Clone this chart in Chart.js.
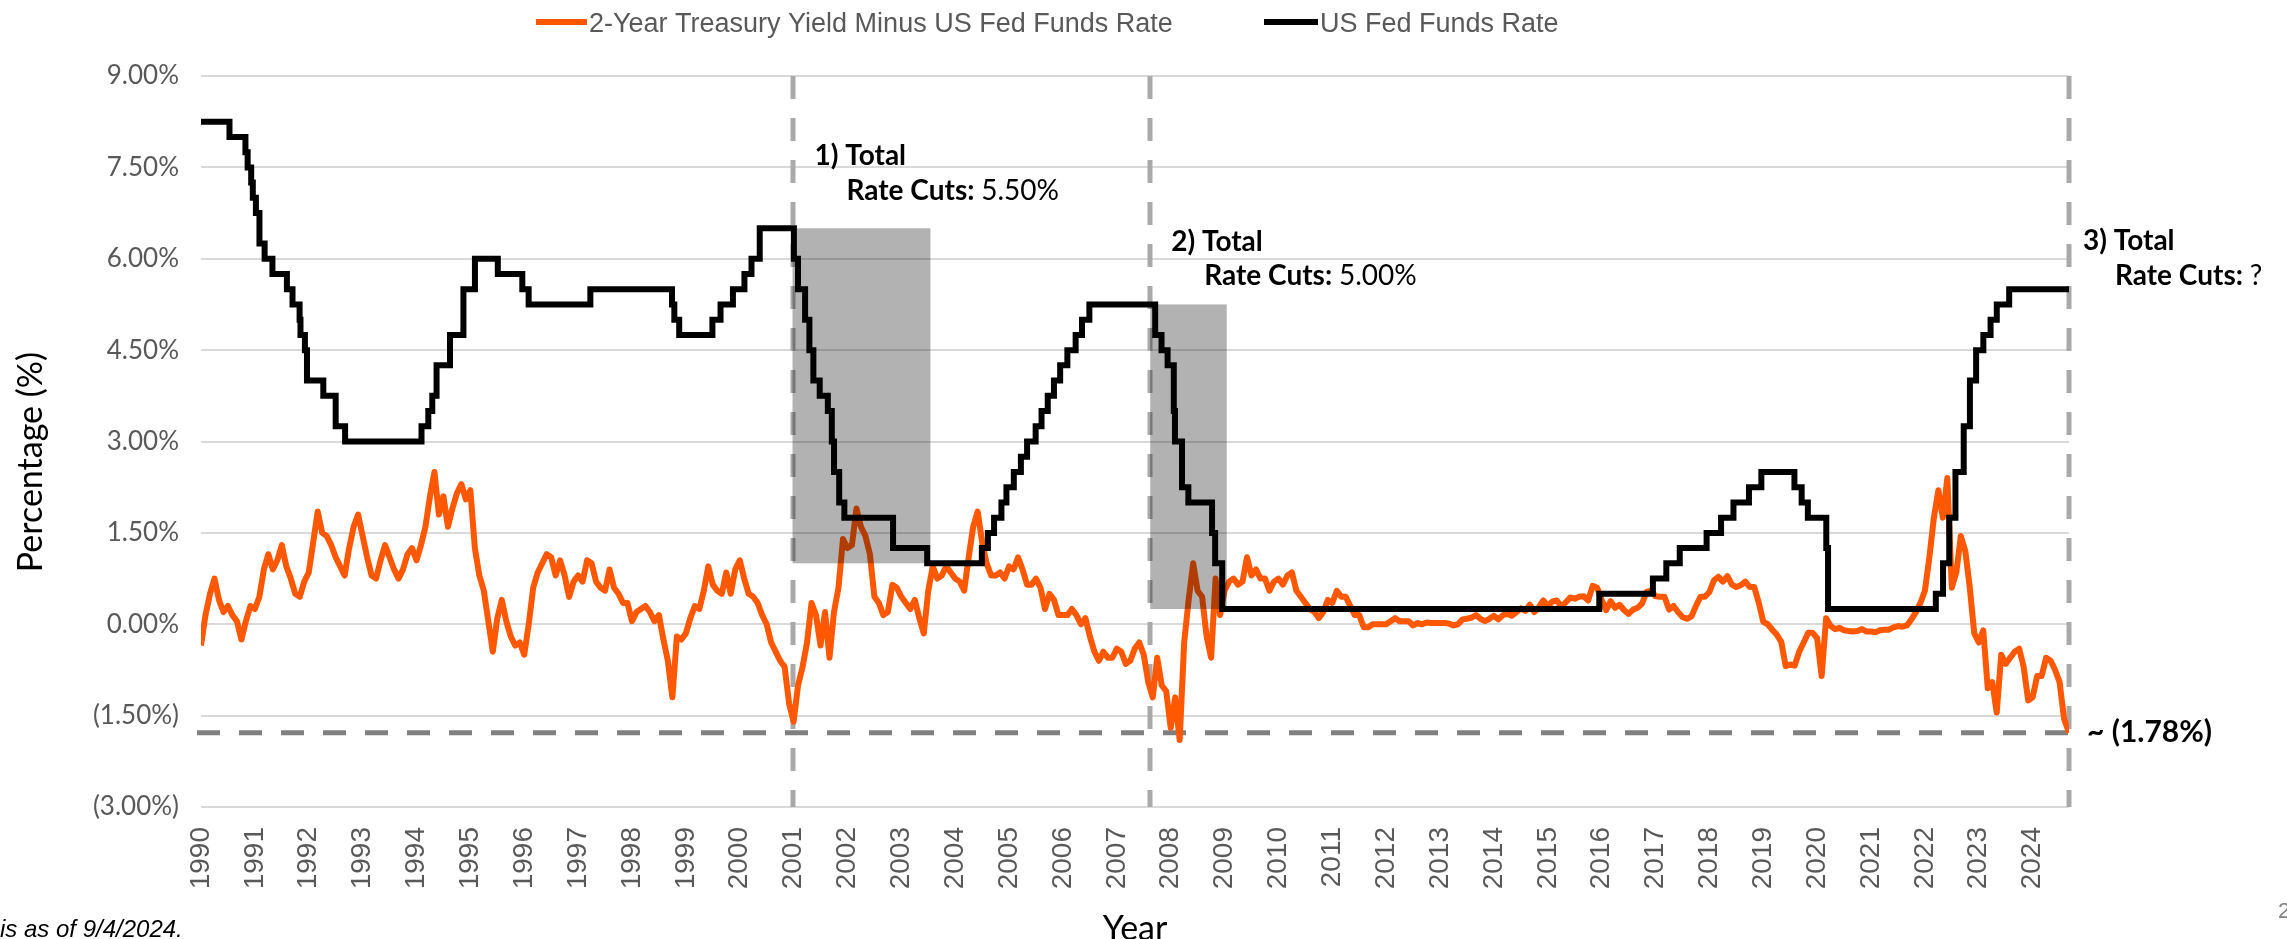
<!DOCTYPE html>
<html><head><meta charset="utf-8">
<script src="https://cdn.jsdelivr.net/npm/chart.js@4.4.1/dist/chart.umd.min.js"></script>
<style>html,body{margin:0;padding:0;background:#fff;overflow:hidden}#wrap{width:2287px;height:939px;position:relative}</style>
</head><body><div id="wrap"><canvas id="c" width="2287" height="939"></canvas></div>
<script>
// ---------- DATA ----------
const spreadStartYear = 1990; // monthly values, Jan 1990 onward
const spreadMonthly = [
 -0.35,0.15,0.50,0.75,0.40,0.20,0.30,0.15,0.05,-0.25,0.05,0.30, // 1990
 0.25,0.45,0.90,1.15,0.90,1.05,1.30,0.95,0.75,0.50,0.45,0.70, // 1991
 0.85,1.35,1.85,1.50,1.45,1.30,1.10,0.95,0.80,1.25,1.60,1.80, // 1992
 1.45,1.10,0.80,0.75,1.05,1.30,1.10,0.90,0.75,0.90,1.15,1.25, // 1993
 1.05,1.30,1.60,2.10,2.50,1.80,2.10,1.60,1.90,2.15,2.30,2.05, // 1994
 2.20,1.25,0.80,0.55,0.05,-0.45,0.10,0.40,0.05,-0.20,-0.35,-0.30, // 1995
 -0.50,0.00,0.60,0.85,1.00,1.15,1.10,0.80,1.05,0.80,0.45,0.70, // 1996
 0.80,0.70,1.05,1.00,0.70,0.60,0.55,0.90,0.60,0.50,0.35,0.35, // 1997
 0.05,0.20,0.25,0.30,0.20,0.05,0.15,-0.25,-0.60,-1.20,-0.20,-0.25, // 1998
 -0.15,0.10,0.30,0.25,0.55,0.95,0.65,0.55,0.50,0.85,0.50,0.90, // 1999
 1.05,0.75,0.50,0.45,0.35,0.15,0.00,-0.30,-0.45,-0.60,-0.70,-1.30, // 2000
 -1.60,-1.00,-0.70,-0.30,0.35,0.15,-0.35,0.20,-0.55,0.20,0.60,1.40, // 2001
 1.25,1.30,1.90,1.60,1.45,1.15,0.45,0.35,0.15,0.20,0.65,0.60, // 2002
 0.45,0.35,0.25,0.40,0.10,-0.15,0.55,0.95,0.75,0.80,0.95,0.85, // 2003
 0.75,0.70,0.55,1.10,1.60,1.85,1.35,1.00,0.80,0.80,0.85,0.75, // 2004
 0.95,0.90,1.10,0.90,0.65,0.65,0.75,0.60,0.25,0.50,0.40,0.15, // 2005
 0.15,0.15,0.25,0.15,0.00,0.10,-0.20,-0.45,-0.60,-0.45,-0.55,-0.55, // 2006
 -0.40,-0.45,-0.65,-0.60,-0.40,-0.30,-0.50,-0.95,-1.20,-0.55,-1.00,-1.10, // 2007
 -1.70,-1.20,-1.90,-0.30,0.40,1.00,0.55,0.45,-0.20,-0.55,0.75,0.15, // 2008
 0.55,0.70,0.75,0.65,0.70,1.10,0.80,0.90,0.75,0.75,0.55,0.70, // 2009
 0.75,0.65,0.80,0.85,0.55,0.45,0.35,0.25,0.20,0.10,0.20,0.40, // 2010
 0.35,0.55,0.45,0.45,0.30,0.15,0.15,-0.05,-0.05,0.00,0.00,0.00, // 2011
 0.00,0.05,0.10,0.05,0.05,0.05,-0.02,0.02,0.00,0.03,0.02,0.02, // 2012
 0.02,0.02,0.01,-0.02,0.00,0.08,0.09,0.11,0.15,0.09,0.05,0.09, // 2013
 0.14,0.08,0.15,0.17,0.14,0.20,0.26,0.22,0.32,0.20,0.28,0.39, // 2014
 0.30,0.37,0.39,0.29,0.36,0.44,0.42,0.45,0.46,0.39,0.63,0.60, // 2015
 0.40,0.23,0.38,0.27,0.32,0.23,0.17,0.24,0.27,0.34,0.53,0.55, // 2016
 0.46,0.45,0.45,0.24,0.30,0.20,0.12,0.09,0.13,0.30,0.45,0.45, // 2017
 0.53,0.72,0.78,0.70,0.79,0.65,0.61,0.64,0.70,0.61,0.61,0.35, // 2018
 0.04,0.00,-0.09,-0.17,-0.29,-0.69,-0.66,-0.68,-0.45,-0.30,-0.14,-0.14, // 2019
 -0.23,-0.85,0.10,-0.03,-0.08,-0.06,-0.10,-0.11,-0.12,-0.11,-0.08,-0.12, // 2020
 -0.12,-0.13,-0.10,-0.09,-0.09,-0.05,-0.03,-0.04,-0.02,0.08,0.20,0.35, // 2021
 0.55,1.10,1.75,2.20,1.75,2.40,0.60,0.85,1.45,1.20,0.60,-0.15, // 2022
 -0.30,-0.10,-1.05,-0.95,-1.45,-0.50,-0.65,-0.55,-0.45,-0.40,-0.70,-1.25, // 2023
 -1.20,-0.85,-0.85,-0.55,-0.60,-0.75,-0.95,-1.55 // 2024
];
const spreadLastDate = '2024-09-04';
const spreadLastValue = -1.78;

const fedDates = ['1990-01-01','1990-07-13','1990-10-29','1990-11-13','1990-12-07','1990-12-18','1991-01-08','1991-02-01','1991-03-08','1991-04-30','1991-08-06','1991-09-13','1991-10-31','1991-11-06','1991-12-06','1991-12-20','1992-04-09','1992-07-02','1992-09-04','1994-02-04','1994-03-22','1994-04-18','1994-05-17','1994-08-16','1994-11-15','1995-02-01','1995-07-06','1995-12-19','1996-01-31','1997-03-25','1998-09-29','1998-10-15','1998-11-17','1999-06-30','1999-08-24','1999-11-16','2000-02-02','2000-03-21','2000-05-16','2001-01-03','2001-01-31','2001-03-20','2001-04-18','2001-05-15','2001-06-27','2001-08-21','2001-09-17','2001-10-02','2001-11-06','2001-12-11','2002-11-06','2003-06-25','2004-06-30','2004-08-10','2004-09-21','2004-11-10','2004-12-14','2005-02-02','2005-03-22','2005-05-03','2005-06-30','2005-08-09','2005-09-20','2005-11-01','2005-12-13','2006-01-31','2006-03-28','2006-05-10','2006-06-29','2007-09-18','2007-10-31','2007-12-11','2008-01-22','2008-01-30','2008-03-18','2008-04-30','2008-10-08','2008-10-29','2008-12-16','2015-12-16','2016-12-14','2017-03-15','2017-06-14','2017-12-13','2018-03-21','2018-06-13','2018-09-26','2018-12-19','2019-07-31','2019-09-18','2019-10-30','2020-03-03','2020-03-15','2022-03-16','2022-05-04','2022-06-15','2022-07-27','2022-09-21','2022-11-02','2022-12-14','2023-02-01','2023-03-22','2023-05-03','2023-07-26'];
const fedRates = [8.25,8.00,7.75,7.50,7.25,7.00,6.75,6.25,6.00,5.75,5.50,5.25,5.00,4.75,4.50,4.00,3.75,3.25,3.00,3.25,3.50,3.75,4.25,4.75,5.50,6.00,5.75,5.50,5.25,5.50,5.25,5.00,4.75,5.00,5.25,5.50,5.75,6.00,6.50,6.00,5.50,5.00,4.50,4.00,3.75,3.50,3.00,2.50,2.00,1.75,1.25,1.00,1.25,1.50,1.75,2.00,2.25,2.50,2.75,3.00,3.25,3.50,3.75,4.00,4.25,4.50,4.75,5.00,5.25,4.75,4.50,4.25,3.50,3.00,2.25,2.00,1.50,1.00,0.25,0.50,0.75,1.00,1.25,1.50,1.75,2.00,2.25,2.50,2.25,2.00,1.75,1.25,0.25,0.50,1.00,1.75,2.50,3.25,4.00,4.50,4.75,5.00,5.25,5.50];

const yearLabels = ['1990','1991','1992','1993','1994','1995','1996','1997','1998','1999','2000','2001','2002','2003','2004','2005','2006','2007','2008','2009','2010','2011','2012','2013','2014','2015','2016','2017','2018','2019','2020','2021','2022','2023','2024'];
const yTickValues = [9, 7.5, 6, 4.5, 3, 1.5, 0, -1.5, -3];

// shaded cutting periods (decimal years) and their rate range
const cutStart = [2000.98, 2007.62];
const cutEnd = [2003.54, 2009.04];
const cutTop = [6.5, 5.25];
const cutBottom = [1.0, 0.25];
const markerYears = [2000.98, 2007.62, 2024.675];
const currentSpreadLevel = -1.78;

const seriesNames = ['2-Year Treasury Yield Minus US Fed Funds Rate', 'US Fed Funds Rate'];
const seriesColors = ['#FF5800', '#000000'];

// ---------- BUILD ----------
function toYear(s){
  const d = new Date(s + 'T00:00:00Z'); const y = d.getUTCFullYear();
  const a = Date.UTC(y,0,1), b = Date.UTC(y+1,0,1);
  return y + (d.getTime() - a) / (b - a);
}
const endYear = toYear(spreadLastDate);
const spreadPoints = spreadMonthly.map((v,i)=>({x: spreadStartYear + i/12, y: v}));
spreadPoints.push({x: endYear, y: spreadLastValue});
const fedPoints = fedDates.map((d,i)=>({x: toYear(d), y: fedRates[i]}));
fedPoints.push({x: endYear, y: fedRates[fedRates.length-1]});

const fmtPct = v => v < 0 ? '(' + Math.abs(v).toFixed(2) + '%)' : v.toFixed(2) + '%';
const SANS = "'Lato', 'Open Sans', sans-serif";

const overlay = {
  id: 'overlay',
  beforeDatasetsDraw(chart){
    const {ctx, chartArea:a, scales:{x, y}} = chart;
    ctx.save();
    ctx.setLineDash([23, 19]);
    ctx.lineWidth = 5;
    ctx.strokeStyle = '#a9a9a9';
    markerYears.forEach(yr => {
      const px = Math.round(x.getPixelForValue(yr));
      ctx.beginPath(); ctx.moveTo(px, a.top); ctx.lineTo(px, a.bottom); ctx.stroke();
    });
    ctx.strokeStyle = '#808080';
    const py = y.getPixelForValue(currentSpreadLevel);
    ctx.beginPath(); ctx.moveTo(a.left - 4, py); ctx.lineTo(a.right, py); ctx.stroke();
    ctx.restore();
  },
  afterDatasetsDraw(chart){
    const {ctx, scales:{x, y}} = chart;
    ctx.save();
    ctx.fillStyle = 'rgba(0,0,0,0.3)';
    cutStart.forEach((s,i) => {
      const x0 = x.getPixelForValue(s), x1 = x.getPixelForValue(cutEnd[i]);
      const y0 = y.getPixelForValue(cutTop[i]), y1 = y.getPixelForValue(cutBottom[i]);
      ctx.fillRect(x0, y0, x1 - x0, y1 - y0);
    });
    ctx.restore();
  },
  afterDraw(chart){
    const {ctx, chartArea:a, scales:{x, y}} = chart;
    ctx.save();
    // legend
    ctx.lineWidth = 6; ctx.lineCap = 'butt';
    ctx.font = "27px 'Liberation Sans', Arial, sans-serif";
    ctx.textBaseline = 'alphabetic';
    ctx.fillStyle = '#595959';
    ctx.strokeStyle = seriesColors[0];
    ctx.beginPath(); ctx.moveTo(536, 22); ctx.lineTo(587, 22); ctx.stroke();
    ctx.fillText(seriesNames[0], 589, 32);
    ctx.strokeStyle = seriesColors[1];
    ctx.beginPath(); ctx.moveTo(1264, 22); ctx.lineTo(1318, 22); ctx.stroke();
    ctx.fillText(seriesNames[1], 1320, 32);

    // annotations
    const bold = "bold 28px " + SANS, reg = "28px " + SANS;
    function twoPart(b, r, px, base){
      ctx.font = bold; ctx.fillText(b, px, base);
      const w = ctx.measureText(b).width;
      ctx.font = reg; ctx.fillText(r, px + w, base);
    }
    ctx.fillStyle = '#000';
    const m = [x.getPixelForValue(markerYears[0]), x.getPixelForValue(markerYears[1]), x.getPixelForValue(markerYears[2])];
    ctx.font = bold; ctx.fillText('1) Total', m[0] + 22, 165);
    twoPart('Rate Cuts: ', '5.50%', m[0] + 54, 200);
    ctx.font = bold; ctx.fillText('2) Total', m[1] + 21, 251);
    twoPart('Rate Cuts: ', '5.00%', m[1] + 54, 285);
    ctx.font = bold; ctx.fillText('3) Total', m[2] + 14, 250);
    twoPart('Rate Cuts: ', '?', m[2] + 46, 285);
    ctx.font = "bold 30px " + SANS;
    ctx.textBaseline = 'middle';
    ctx.fillText('~ (1.78%)', m[2] + 18, y.getPixelForValue(currentSpreadLevel));

    // axis titles
    ctx.textBaseline = 'alphabetic';
    ctx.font = "34px " + SANS;
    ctx.textAlign = 'center';
    ctx.fillText('Year', (a.left + a.right) / 2, 940);
    ctx.save();
    ctx.translate(42, 462); ctx.rotate(-Math.PI/2);
    ctx.fillText('Percentage (%)', 0, 0);
    ctx.restore();
    // footnote
    ctx.textAlign = 'left';
    ctx.font = "italic 24px 'Liberation Sans', Arial, sans-serif";
    ctx.fillText('is as of 9/4/2024.', 0, 937);
    ctx.fillStyle = '#7f7f7f';
    ctx.font = "22px 'Liberation Sans', Arial, sans-serif";
    ctx.fillText('2', 2278, 918);
    ctx.restore();
  }
};

new Chart(document.getElementById('c'), {
  type: 'line',
  data: { datasets: [
    { label: seriesNames[0], data: spreadPoints, borderColor: seriesColors[0], backgroundColor: seriesColors[0], borderWidth: 6, pointRadius: 0, tension: 0, order: 1, borderJoinStyle: 'round' },
    { label: seriesNames[1], data: fedPoints, borderColor: seriesColors[1], backgroundColor: seriesColors[1], borderWidth: 6, pointRadius: 0, stepped: 'before', order: 0 }
  ]},
  options: {
    responsive: false, animation: false, devicePixelRatio: 1,
    layout: { padding: { left: 0, right: 218, top: 76, bottom: 0 } },
    plugins: { legend: { display: false }, tooltip: { enabled: false } },
    scales: {
      x: {
        type: 'linear', min: spreadStartYear, max: endYear,
        border: { display: false },
        grid: { display: false, drawTicks: false },
        afterBuildTicks: s => { s.ticks = yearLabels.map(l => ({ value: +l })); },
        afterFit: s => { s.height = 132; },
        ticks: { autoSkip: false, includeBounds: false, maxRotation: 90, minRotation: 90, padding: 20,
          color: '#595959', font: { family: "'Liberation Sans', Arial, sans-serif", size: 28 },
          callback: v => yearLabels[Math.round(v) - spreadStartYear] }
      },
      y: {
        min: -3, max: 9,
        border: { display: false },
        grid: { color: '#d9d9d9', lineWidth: 2, drawTicks: false },
        afterBuildTicks: s => { s.ticks = yTickValues.map(v => ({ value: v })); },
        afterFit: s => { s.width = 201; },
        ticks: { padding: 22, color: '#595959', font: { family: SANS, size: 26 }, callback: v => fmtPct(v) }
      }
    }
  },
  plugins: [overlay]
});
</script></body></html>
